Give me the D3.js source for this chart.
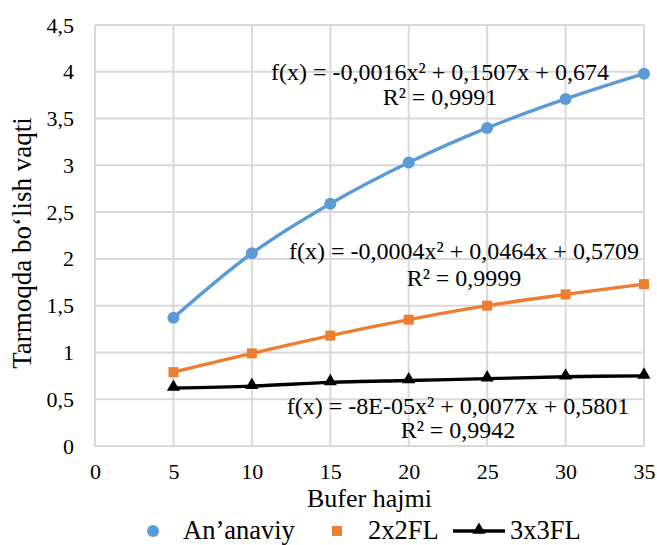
<!DOCTYPE html>
<html>
<head>
<meta charset="utf-8">
<script src="https://cdn.jsdelivr.net/npm/d3@7"></script>
<style>
  html, body { margin: 0; padding: 0; background: #fff; }
  svg { display: block; }
  svg text { font-family: "Liberation Serif", "Times New Roman", serif !important; fill: #000; }
</style>
</head>
<body>
<svg id="chart" width="657" height="545"></svg>
<script>
// Buffer sizes on the x axis
const bufferSizes = [5, 10, 15, 20, 25, 30, 35];
// Network residence time per scheme
const ananaviy = [1.37, 2.06, 2.59, 3.03, 3.40, 3.71, 3.98];
const fl2x2 = [0.79, 0.99, 1.18, 1.35, 1.50, 1.62, 1.73];
const fl3x3 = [0.62, 0.64, 0.68, 0.70, 0.72, 0.74, 0.75];

const xTicks = [0, 5, 10, 15, 20, 25, 30, 35];
const yTicks = [0, 0.5, 1, 1.5, 2, 2.5, 3, 3.5, 4, 4.5];

const seriesNames = ["An\u2019anaviy", "2x2FL", "3x3FL"];
const seriesColors = ["#5B9BD5", "#ED7D31", "#000000"];
const trendEquations = [
  "f(x) = -0,0016x\u00B2 + 0,1507x + 0,674",
  "f(x) = -0,0004x\u00B2 + 0,0464x + 0,5709",
  "f(x) = -8E-05x\u00B2 + 0,0077x + 0,5801"
];
const trendR2 = ["R\u00B2 = 0,9991", "R\u00B2 = 0,9999", "R\u00B2 = 0,9942"];

const svg = d3.select("#chart");
const margin = { left: 95, right: 13, top: 25, bottom: 99 };
const W = 657, H = 545;
const x = d3.scaleLinear().domain([0, 35]).range([margin.left, W - margin.right]);
const y = d3.scaleLinear().domain([0, 4.5]).range([H - margin.bottom, margin.top]);

const fmt = v => String(v).replace(".", ",");

// Gridlines
const grid = svg.append("g");
grid.selectAll("line.h").data(yTicks).join("line")
  .attr("x1", x(0)).attr("x2", x(35))
  .attr("y1", d => y(d)).attr("y2", d => y(d))
  .attr("stroke", "#D9D9D9").attr("stroke-width", 2);
grid.selectAll("line.v").data(xTicks).join("line")
  .attr("y1", y(0)).attr("y2", y(4.5))
  .attr("x1", d => x(d)).attr("x2", d => x(d))
  .attr("stroke", "#D9D9D9").attr("stroke-width", 2);

// Axes (labels only)
const xAxis = svg.append("g")
  .attr("transform", `translate(0,${y(0)})`)
  .call(d3.axisBottom(x).tickValues(xTicks).tickFormat(fmt).tickSize(0).tickPadding(17));
const yAxis = svg.append("g")
  .attr("transform", `translate(${x(0)},0)`)
  .call(d3.axisLeft(y).tickValues(yTicks).tickFormat(fmt).tickSize(0).tickPadding(21));
[xAxis, yAxis].forEach(a => {
  a.attr("font-family", "Liberation Serif");
  a.select(".domain").remove();
  a.selectAll("text").attr("font-size", 22);
});

// Axis titles
svg.append("text").attr("x", (x(0) + x(35)) / 2).attr("y", 507)
  .attr("text-anchor", "middle").attr("font-size", 26).text("Bufer hajmi");
svg.append("text")
  .attr("transform", `translate(31,${243}) rotate(-90)`)
  .attr("text-anchor", "middle").attr("font-size", 27).text("Tarmoqda bo\u02BBlish vaqti");

// Series
const allSeries = [ananaviy, fl2x2, fl3x3];
const line = d3.line().x(d => x(d[0])).y(d => y(d[1])).curve(d3.curveCatmullRom.alpha(0.5));

allSeries.forEach((vals, i) => {
  const pts = bufferSizes.map((b, j) => [b, vals[j]]);
  svg.append("path").datum(pts).attr("d", line)
    .attr("fill", "none").attr("stroke", seriesColors[i]).attr("stroke-width", 3.4);
  const g = svg.append("g");
  if (i === 0) {
    g.selectAll("circle").data(pts).join("circle")
      .attr("cx", d => x(d[0])).attr("cy", d => y(d[1])).attr("r", 6)
      .attr("fill", seriesColors[i]);
  } else if (i === 1) {
    g.selectAll("rect").data(pts).join("rect")
      .attr("x", d => x(d[0]) - 5).attr("y", d => y(d[1]) - 5)
      .attr("width", 10).attr("height", 10).attr("fill", seriesColors[i]);
  } else {
    g.selectAll("path").data(pts).join("path")
      .attr("d", d3.symbol().type(d3.symbolTriangle).size(75))
      .attr("transform", d => `translate(${x(d[0])},${y(d[1]) - 1})`)
      .attr("fill", seriesColors[i]);
  }
});

// Trendline equations
const eqPos = [
  { cx: 440, y1: 80, y2: 105 },
  { cx: 464, y1: 259, y2: 286 },
  { cx: 458, y1: 414, y2: 438 }
];
eqPos.forEach((p, i) => {
  svg.append("text").attr("x", p.cx).attr("y", p.y1).attr("text-anchor", "middle")
    .attr("font-size", 24).text(trendEquations[i]);
  svg.append("text").attr("x", p.cx).attr("y", p.y2).attr("text-anchor", "middle")
    .attr("font-size", 24).text(trendR2[i]);
});

// Legend
const legY = 531;
const leg = svg.append("g");
leg.append("circle").attr("cx", 153).attr("cy", legY).attr("r", 6).attr("fill", seriesColors[0]);
leg.append("text").attr("x", 183).attr("y", legY + 8).attr("font-size", 26.5).text(seriesNames[0]);
leg.append("rect").attr("x", 332).attr("y", legY - 5).attr("width", 10).attr("height", 10).attr("fill", seriesColors[1]);
leg.append("text").attr("x", 368).attr("y", legY + 8).attr("font-size", 26.5).text(seriesNames[1]);
leg.append("line").attr("x1", 453).attr("x2", 505).attr("y1", legY).attr("y2", legY)
  .attr("stroke", seriesColors[2]).attr("stroke-width", 3.4);
leg.append("path").attr("d", d3.symbol().type(d3.symbolTriangle).size(75))
  .attr("transform", `translate(479,${legY - 1})`).attr("fill", seriesColors[2]);
leg.append("text").attr("x", 510).attr("y", legY + 8).attr("font-size", 26.5).text(seriesNames[2]);
</script>
</body>
</html>
